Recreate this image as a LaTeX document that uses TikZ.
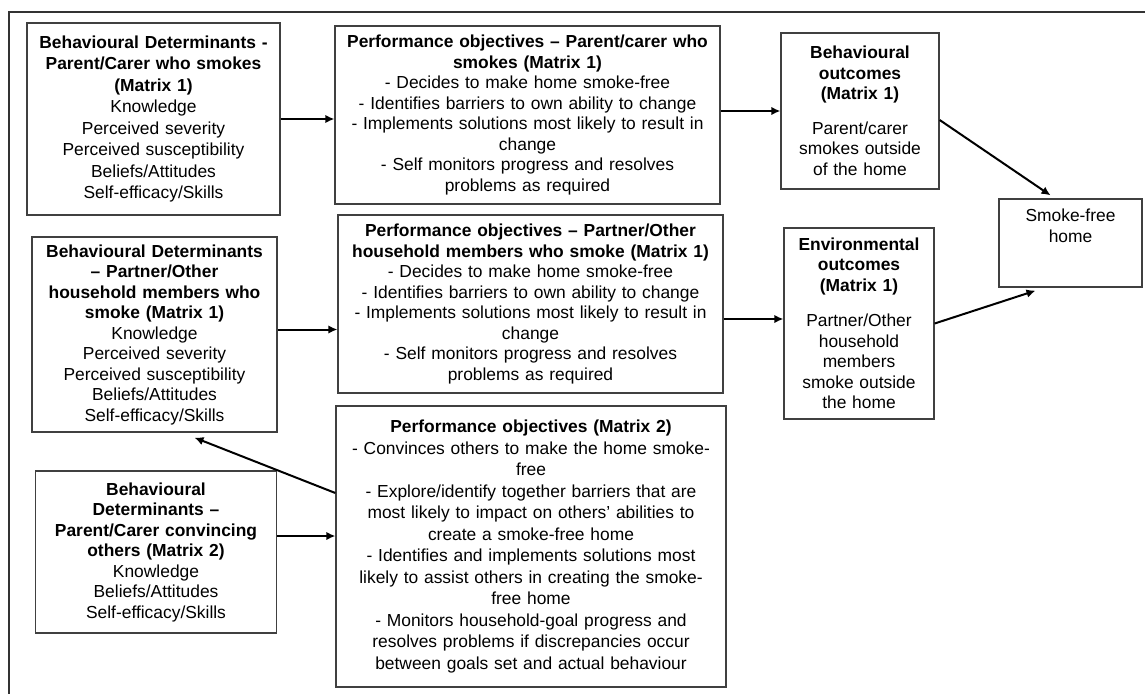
\documentclass[tikz,border=0pt]{standalone}
\usepackage{fontspec}
\setmainfont{Liberation Sans}
\usepackage{tikz}
\usetikzlibrary{arrows.meta}
\tikzstyle{link} = [draw, -{Latex[length=9pt,width=8.5pt]}, line width=2pt]
\tikzstyle{box} = [rectangle, draw=black!75, line width=1.3pt, align=center, inner sep=3pt, font=\fontsize{17.4}{20.5}\selectfont]
\tikzstyle{bdet} = [box, minimum width=245pt, text width=235pt]
\tikzstyle{perf} = [box, minimum width=385pt, minimum height=178pt, text width=375pt]
\tikzstyle{outc} = [box, minimum width=154pt, text width=144pt]
\tikzstyle{goal} = [box, minimum width=143pt, minimum height=88pt, text width=133pt]

\begin{document}
\begin{tikzpicture}
\useasboundingbox (0,0) rectangle (1145pt,-693pt);
\draw [line width=1.2pt, black!80] (9pt,-12pt) rectangle (1160pt,-710pt);

\node [bdet, minimum width=253pt, minimum height=192pt, font=\fontsize{17.4}{21.5}\selectfont] (bd1) at (153.5pt,-119pt) {\textbf{Behavioural Determinants -}\\\textbf{Parent/Carer who smokes}\\\textbf{(Matrix 1)}\\Knowledge\\Perceived severity\\Perceived susceptibility\\Beliefs/Attitudes\\Self-efficacy/Skills};

\node [perf, right of = bd1, node distance = 374pt, yshift=4pt] (po1) {\textbf{Performance objectives -- Parent/carer who}\\\textbf{smokes (Matrix 1)}\\- Decides to make home smoke-free\\- Identifies barriers to own ability to change\\- Implements solutions most likely to result in\\change\\- Self monitors progress and resolves\\problems as required};

\node [outc, right of = po1, node distance = 332.5pt, yshift=4pt, minimum width=158pt, minimum height=156pt] (bo) {\textbf{Behavioural}\\\textbf{outcomes}\\\textbf{(Matrix 1)}\\[14pt]Parent/carer\\smokes outside\\of the home};

\node [goal, right of = bo, node distance = 210.5pt, yshift=-132pt] (sf) {Smoke-free\\home\\[14pt]\mbox{}};

\node [bdet, below of = bd1, node distance = 215.5pt, xshift=1pt, minimum height=195pt] (bd2) {\textbf{Behavioural Determinants}\\\textbf{-- Partner/Other}\\\textbf{household members who}\\\textbf{smoke (Matrix 1)}\\Knowledge\\Perceived severity\\Perceived susceptibility\\Beliefs/Attitudes\\Self-efficacy/Skills};

\node [perf, below of = po1, node distance = 189pt, xshift=3pt] (po2) {\textbf{Performance objectives -- Partner/Other}\\\textbf{household members who smoke (Matrix 1)}\\- Decides to make home smoke-free\\- Identifies barriers to own ability to change\\- Implements solutions most likely to result in\\change\\- Self monitors progress and resolves\\problems as required};

\node [outc, below of = bo, node distance = 212.5pt, xshift=-1pt, minimum width=150pt, minimum height=191pt] (eo) {\textbf{Environmental}\\\textbf{outcomes}\\\textbf{(Matrix 1)}\\[15pt]Partner/Other\\household\\members\\smoke outside\\the home};

\node [bdet, below of = bd2, node distance = 217.5pt, xshift=1.5pt, minimum width=238pt, minimum height=162pt] (bd3) {\textbf{Behavioural}\\\textbf{Determinants --}\\\textbf{Parent/Carer convincing}\\\textbf{others (Matrix 2)}\\Knowledge\\Beliefs/Attitudes\\Self-efficacy/Skills};

\node [perf, below of = po2, node distance = 242.5pt, xshift=0.5pt, minimum width=390pt, minimum height=281pt, font=\fontsize{17.4}{21.5}\selectfont] (po3) {\textbf{Performance objectives (Matrix 2)}\\- Convinces others to make the home smoke-\\free\\- Explore/identify together barriers that are\\most likely to impact on others' abilities to\\create a smoke-free home\\- Identifies and implements solutions most\\likely to assist others in creating the smoke-\\free home\\- Monitors household-goal progress and\\resolves problems if discrepancies occur\\between goals set and actual behaviour};

\path [link] (bd1.east) -- (bd1.east -| po1.west);
\path [link] (po1.east |- bo.west) -- (bo.west);
\path [link] ([yshift=5pt]bd2.east) -- ([yshift=5pt]bd2.east -| po2.west);
\path [link] ([yshift=-15pt]po2.east) -- ([yshift=-15pt]po2.east -| eo.west);
\path [link] ([yshift=16pt]bd3.east) -- ([yshift=16pt]bd3.east -| po3.west);
\path [link] ([yshift=53.5pt]po3.west) -- ([xshift=40pt,yshift=-5pt]bd2.south);
\path [link] ([yshift=-9pt]bo.east) -- ([xshift=-20pt,yshift=3pt]sf.north);
\path [link] (eo.east) -- ([xshift=-35pt,yshift=-3pt]sf.south);

\end{tikzpicture}
\end{document}
